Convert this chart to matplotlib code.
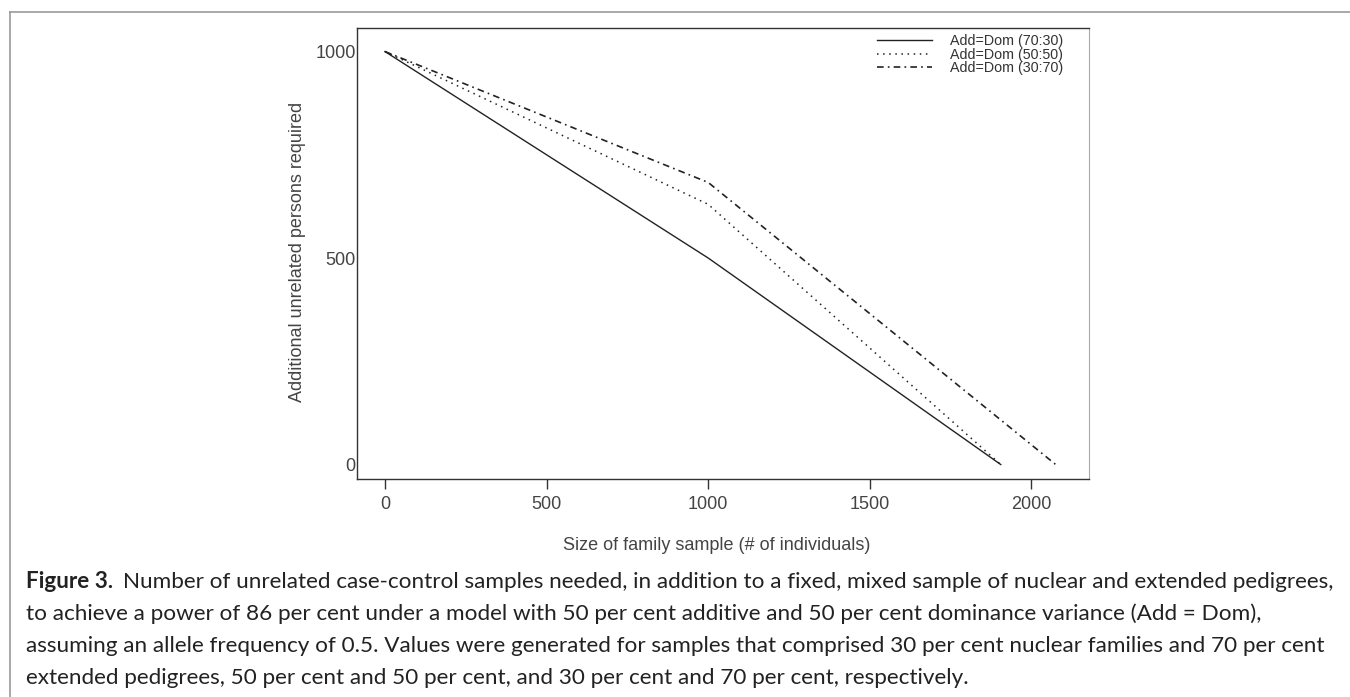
import numpy as np
import matplotlib
matplotlib.use("Agg")
import matplotlib.pyplot as plt
from matplotlib.lines import Line2D

plt.rcParams['font.family'] = ['Liberation Sans', 'DejaVu Sans']

# family sample size (# of individuals) vs additional unrelated persons needed
x_7030 = [0, 1000, 1905]
y_7030 = [1000, 500, 0]
x_5050 = [0, 1000, 1905]
y_5050 = [1000, 630, 0]
x_3070 = [0, 1000, 2075]
y_3070 = [1000, 683, 0]
labels = ["Add=Dom (70:30)", "Add=Dom (50:50)", "Add=Dom (30:70)"]
xticks = [0, 500, 1000, 1500, 2000]
yticks = [0, 500, 1000]

caption_bold = "Figure 3."
caption_lines = [
    "Number of unrelated case-control samples needed, in addition to a fixed, mixed sample of nuclear and extended pedigrees,",
    "to achieve a power of 86 per cent under a model with 50 per cent additive and 50 per cent dominance variance (Add = Dom),",
    "assuming an allele frequency of 0.5. Values were generated for samples that comprised 30 per cent nuclear families and 70 per cent",
    "extended pedigrees, 50 per cent and 50 per cent, and 30 per cent and 70 per cent, respectively.",
]

W, H = 1350, 697
fig = plt.figure(figsize=(W/100, H/100), dpi=100)

# outer frame of the figure panel
fig.add_artist(Line2D([10/W, 10/W], [0, 1-12/H], color="#999999", lw=1.2))
fig.add_artist(Line2D([10/W, 1], [1-12/H, 1-12/H], color="#999999", lw=1.2))

ax = fig.add_axes([357/W, 1-479/H, (1089-357)/W, (479-27.6)/H])
lc = "#222222"
ax.plot(x_7030, y_7030, color=lc, lw=1.0, linestyle="-")
ax.plot(x_5050, y_5050, color=lc, lw=1.1, linestyle=(0, (1, 3)))
ax.plot(x_3070, y_3070, color=lc, lw=1.2, linestyle=(0, (4, 2.5, 1, 2.5)))

ax.set_xlim(-86.6, 2178)
ax.set_ylim(-35, 1058)
ax.set_xticks(xticks)
ax.set_yticks(yticks)
ax.tick_params(axis="x", direction="out", length=7, width=1, color="#333333",
               pad=5, labelsize=13, labelcolor="#444444")
ax.tick_params(axis="y", length=0, pad=1, labelsize=13, labelcolor="#444444")
for s in ["left", "bottom", "top"]:
    ax.spines[s].set_color("#333333")
    ax.spines[s].set_linewidth(1.0)
ax.spines["right"].set_color("#aaaaaa")

handles = [Line2D([], [], color=lc, lw=1.0, linestyle="-"),
           Line2D([], [], color=lc, lw=1.1, linestyle=(0, (1, 3))),
           Line2D([], [], color=lc, lw=1.2, linestyle=(0, (4, 2.5, 1, 2.5)))]
leg = ax.legend(handles, labels, loc="upper right", bbox_to_anchor=(0.965, 0.985),
                frameon=False, fontsize=10.3, handlelength=3.85, handletextpad=1.25,
                labelspacing=-0.05, borderaxespad=0, borderpad=0)
for t in leg.get_texts():
    t.set_color("#333333")

fig.text(717/W, 1-546/H, "Size of family sample (# of individuals)", ha="center",
         va="center", fontsize=13, color="#444444")
fig.text(297/W, 1-252/H, "Additional unrelated persons required", ha="center",
         va="center", rotation=90, fontsize=13, color="#444444")

# caption
cap_font = ['Lato', 'DejaVu Sans']
cap_size = 16.2
ys = [582, 614, 646, 678]
renderer = fig.canvas.get_renderer()
tb = fig.text(26/W, 1-ys[0]/H, caption_bold, fontsize=cap_size, fontweight="bold",
              family=cap_font, va="center", color="#222222")
bb = tb.get_window_extent(renderer)
fig.text((bb.x1 + 10)/W, 1-ys[0]/H, caption_lines[0], fontsize=cap_size,
         family=cap_font, va="center", color="#222222")
for yy, line in zip(ys[1:], caption_lines[1:]):
    fig.text(26/W, 1-yy/H, line, fontsize=cap_size, family=cap_font,
             va="center", color="#222222")

fig.savefig("out.png", dpi=100)
